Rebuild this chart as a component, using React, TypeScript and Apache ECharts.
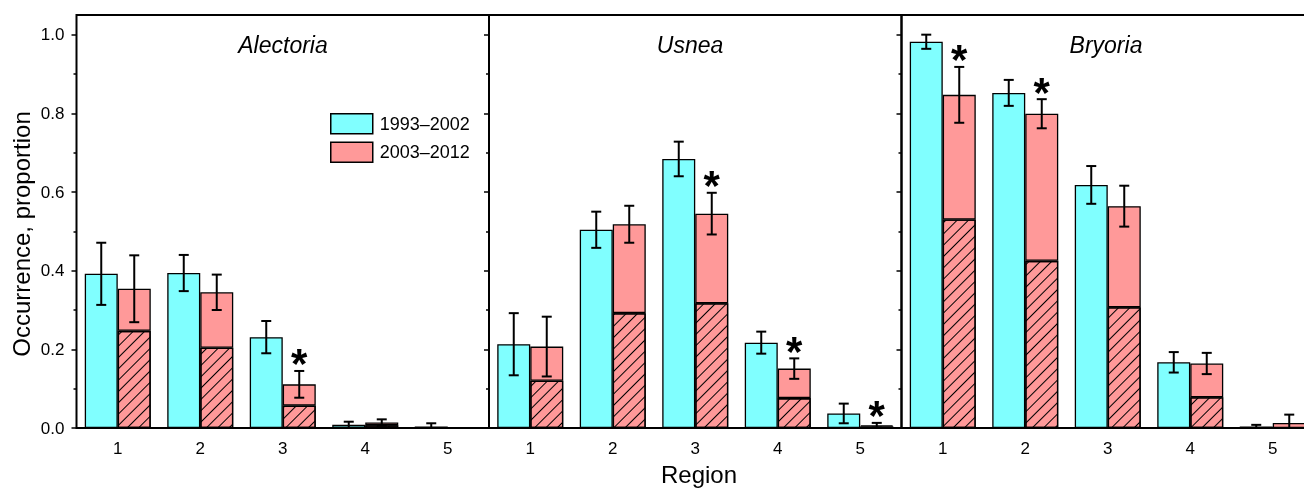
import React, { useEffect, useRef } from 'react';
import * as echarts from 'echarts';

const regions = ['1', '2', '3', '4', '5'];
const taxa = ['Alectoria', 'Usnea', 'Bryoria'];
const periodLabels = ['1993–2002', '2003–2012'];

// Alectoria
const alectoriaEarly = [0.392, 0.394, 0.231, 0.008, 0.004];
const alectoriaEarlyErr = [0.079, 0.046, 0.041, 0.008, 0.008];
const alectoriaLate = [0.354, 0.345, 0.111, 0.014, 0];
const alectoriaLateErr = [0.085, 0.045, 0.034, 0.008, 0];
const alectoriaHatched = [0.247, 0.204, 0.057, 0.007, 0];
const alectoriaStars = [0, 0, 1, 0, 0];

// Usnea
const usneaEarly = [0.213, 0.504, 0.684, 0.217, 0.037];
const usneaEarlyErr = [0.079, 0.046, 0.044, 0.028, 0.025];
const usneaLate = [0.207, 0.518, 0.545, 0.151, 0.007];
const usneaLateErr = [0.076, 0.047, 0.053, 0.026, 0.006];
const usneaHatched = [0.12, 0.292, 0.317, 0.076, 0.004];
const usneaStars = [0, 0, 1, 1, 1];

// Bryoria
const bryoriaEarly = [0.982, 0.852, 0.618, 0.167, 0.004];
const bryoriaEarlyErr = [0.018, 0.033, 0.048, 0.026, 0.004];
const bryoriaLate = [0.847, 0.799, 0.564, 0.164, 0.013];
const bryoriaLateErr = [0.071, 0.037, 0.052, 0.027, 0.021];
const bryoriaHatched = [0.53, 0.425, 0.307, 0.078, 0];
const bryoriaStars = [1, 1, 0, 0, 0];

const majorTicks = [0, 0.2, 0.4, 0.6, 0.8, 1.0];
const minorTicks = [0.1, 0.3, 0.5, 0.7, 0.9];

const panels = [
  { early: alectoriaEarly, earlyErr: alectoriaEarlyErr, late: alectoriaLate, lateErr: alectoriaLateErr, hatched: alectoriaHatched, stars: alectoriaStars },
  { early: usneaEarly, earlyErr: usneaEarlyErr, late: usneaLate, lateErr: usneaLateErr, hatched: usneaHatched, stars: usneaStars },
  { early: bryoriaEarly, earlyErr: bryoriaEarlyErr, late: bryoriaLate, lateErr: bryoriaLateErr, hatched: bryoriaHatched, stars: bryoriaStars },
];

const FONT = "'Liberation Sans', Arial, Helvetica, sans-serif";
const CYAN = '#80FFFF';
const SALMON = '#FF9999';

export default function App() {
  const ref = useRef<HTMLDivElement>(null);
  useEffect(() => {
    if (!ref.current) return;
    const chart = echarts.init(ref.current, undefined, { renderer: 'svg' });

    const gridLefts = [76.5, 489, 901.5];
    const gridW = 412.5;
    const grids = gridLefts.map((l) => ({
      left: l, top: 15, width: gridW, height: 413,
      show: true, borderColor: '#000', borderWidth: 2, backgroundColor: 'transparent',
    }));

    const xAxes = gridLefts.map((_, g) => ({
      type: 'category', gridIndex: g, data: regions,
      axisLine: { show: false }, axisTick: { show: false },
      axisLabel: { fontSize: 17, color: '#000', margin: 12, fontFamily: FONT },
    }));

    const mkY = (gridIndex: number, position: string, vals: number[], len: number, inside: boolean, showLabel: boolean) => ({
      type: 'value', gridIndex, position, min: 0, max: 1.05,
      splitLine: { show: false }, axisLine: { show: false },
      axisTick: { show: true, inside, length: len, customValues: vals, lineStyle: { color: '#000', width: 1.5 } },
      axisLabel: { show: showLabel, customValues: vals, formatter: (v: number) => v.toFixed(1), fontSize: 17, color: '#000', margin: 12, fontFamily: FONT },
    });

    const yAxes = [
      mkY(0, 'left', majorTicks, 5, false, true),
      mkY(0, 'left', minorTicks, 3, false, false),
      mkY(0, 'right', majorTicks, 5, true, false),
      mkY(0, 'right', minorTicks, 3, true, false),
      mkY(1, 'right', majorTicks, 5, true, false),
      mkY(1, 'right', minorTicks, 3, true, false),
      mkY(2, 'right', majorTicks, 5, true, false),
      mkY(2, 'right', minorTicks, 3, true, false),
    ];
    const seriesY = [0, 4, 6];

    const series: any[] = [];
    panels.forEach((p, g) => {
      const common = {
        type: 'bar', xAxisIndex: g, yAxisIndex: seriesY[g],
        barGap: '0%', barCategoryGap: '20%',
      };
      series.push({
        ...common, name: periodLabels[0],
        data: p.early.map((v) => (v > 0 ? v : null)),
        itemStyle: { color: CYAN, borderColor: '#000', borderWidth: 1.3 },
      });
      series.push({
        ...common, name: 'hatched', stack: 'late' + g,
        data: p.hatched.map((v) => (v > 0 ? v : null)),
        itemStyle: {
          color: SALMON, borderColor: '#000', borderWidth: 1.3,
          decal: { symbol: 'rect', symbolSize: 1, color: '#000', dashArrayX: [1, 0], dashArrayY: [0.8, 6.5], rotation: -Math.PI / 4 },
        },
      });
      series.push({
        ...common, name: periodLabels[1], stack: 'late' + g,
        data: p.late.map((v, i) => (v > 0 ? +(v - p.hatched[i]).toFixed(4) : null)),
        itemStyle: { color: SALMON, borderColor: '#000', borderWidth: 1.3 },
      });
      const errData: number[][] = [];
      p.early.forEach((v, i) => {
        errData.push([i, Math.max(0, v - p.earlyErr[i]), v + p.earlyErr[i], 0, 0]);
      });
      p.late.forEach((v, i) => {
        if (p.lateErr[i] > 0 || p.stars[i]) errData.push([i, Math.max(0, v - p.lateErr[i]), v + p.lateErr[i], 1, p.stars[i]]);
      });
      series.push({
        type: 'custom', xAxisIndex: g, yAxisIndex: seriesY[g], z: 5,
        encode: { x: 0, y: [1, 2] },
        data: errData,
        renderItem: (params: any, api: any) => {
          const cat = api.value(0);
          const lo = api.value(1);
          const hi = api.value(2);
          const side = api.value(3);
          const star = api.value(4);
          const band = api.size([1, 0])[0];
          const off = (side === 0 ? -1 : 1) * band * 0.2;
          const pHi = api.coord([cat, hi]);
          const pLo = api.coord([cat, lo]);
          const x = pHi[0] + off;
          const cap = 5;
          const ls = { stroke: '#000', lineWidth: 2 };
          const children: any[] = [];
          if (hi - lo > 0) {
            children.push({ type: 'line', shape: { x1: x, y1: pHi[1], x2: x, y2: pLo[1] }, style: ls });
            children.push({ type: 'line', shape: { x1: x - cap, y1: pHi[1], x2: x + cap, y2: pHi[1] }, style: ls });
            children.push({ type: 'line', shape: { x1: x - cap, y1: pLo[1], x2: x + cap, y2: pLo[1] }, style: ls });
          }
          if (star) {
            children.push({
              type: 'text', x, y: pHi[1] - 7,
              style: { text: '*', fontSize: 42, fontWeight: 'bold', fontFamily: FONT, fill: '#000', align: 'center', verticalAlign: 'middle' },
            });
          }
          return { type: 'group', children };
        },
      });
    });

    const titleX = [283, 690, 1106];
    const graphic: any[] = taxa.map((t, i) => ({
      type: 'text', x: titleX[i], y: 45,
      style: { text: t, fontSize: 23, fontStyle: 'italic', fontFamily: FONT, fill: '#000', align: 'center', verticalAlign: 'middle' },
    }));
    graphic.push({
      type: 'text', x: 21, y: 234, rotation: Math.PI / 2,
      style: { text: 'Occurrence, proportion', fontSize: 24, fontFamily: FONT, fill: '#000', align: 'center', verticalAlign: 'middle' },
    });
    graphic.push({
      type: 'text', x: 699, y: 474,
      style: { text: 'Region', fontSize: 24, fontFamily: FONT, fill: '#000', align: 'center', verticalAlign: 'middle' },
    });

    chart.setOption({
      animation: false,
      textStyle: { fontFamily: FONT },
      grid: grids,
      xAxis: xAxes,
      yAxis: yAxes,
      legend: {
        data: periodLabels, orient: 'vertical', left: 330, top: 113,
        itemWidth: 42, itemHeight: 20, itemGap: 7,
        icon: 'rect',
        itemStyle: { borderColor: '#000', borderWidth: 1.5 },
        textStyle: { fontSize: 18, color: '#000', fontFamily: FONT, padding: [0, 0, 0, 2] },
        selectedMode: false,
        padding: 0,
      },
      series,
      graphic,
    });
    return () => chart.dispose();
  }, []);
  return <div ref={ref} style={{ position: 'fixed', left: 0, top: 0, width: 1318, height: 488 }} />;
}
